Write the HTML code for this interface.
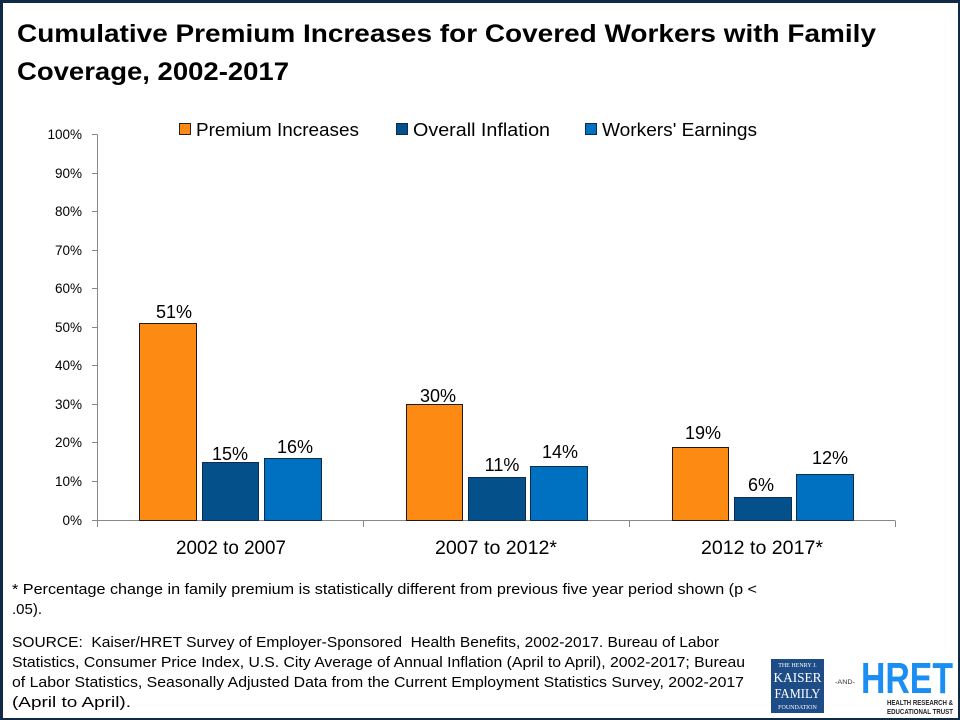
<!DOCTYPE html>
<html><head><meta charset="utf-8"><style>
html,body{margin:0;padding:0;background:#fff;}
svg{display:block;}
text{font-family:"Liberation Sans",sans-serif;white-space:pre;}
</style></head><body>
<svg width="960" height="720" viewBox="0 0 960 720" xmlns="http://www.w3.org/2000/svg">
<rect x="0" y="0" width="960" height="720" fill="#fff"/>
<!-- frame -->
<rect x="0" y="0" width="960" height="3" fill="#0e2a47"/>
<rect x="0" y="0" width="3" height="720" fill="#0e2a47"/>
<rect x="958" y="0" width="2" height="720" fill="#0e2a47"/>
<rect x="0" y="718" width="960" height="2" fill="#0e2a47"/>

<!-- title -->
<text x="17" y="42" font-size="25" font-weight="bold" fill="#000" textLength="859" lengthAdjust="spacingAndGlyphs">Cumulative Premium Increases for Covered Workers with Family</text>
<text x="17" y="80" font-size="25" font-weight="bold" fill="#000" textLength="272" lengthAdjust="spacingAndGlyphs">Coverage, 2002-2017</text>

<!-- legend -->
<rect x="179.5" y="123.5" width="11" height="11" fill="#FD8A12" stroke="#222" stroke-width="1"/>
<text x="196" y="136" font-size="18" fill="#000" textLength="163" lengthAdjust="spacingAndGlyphs">Premium Increases</text>
<rect x="396.5" y="123.5" width="11" height="11" fill="#03508A" stroke="#0d2d50" stroke-width="1"/>
<text x="413" y="136" font-size="18" fill="#000" textLength="137" lengthAdjust="spacingAndGlyphs">Overall Inflation</text>
<rect x="585.5" y="123.5" width="11" height="11" fill="#0071C1" stroke="#0d2d50" stroke-width="1"/>
<text x="602" y="136" font-size="18" fill="#000" textLength="155" lengthAdjust="spacingAndGlyphs">Workers' Earnings</text>

<!-- y axis -->
<g stroke="#888" stroke-width="1">
<line x1="97.5" y1="134.5" x2="97.5" y2="527"/>
<line x1="92" y1="134.5" x2="97.5" y2="134.5"/>
<line x1="92" y1="173.5" x2="97.5" y2="173.5"/>
<line x1="92" y1="211.5" x2="97.5" y2="211.5"/>
<line x1="92" y1="250.5" x2="97.5" y2="250.5"/>
<line x1="92" y1="288.5" x2="97.5" y2="288.5"/>
<line x1="92" y1="327.5" x2="97.5" y2="327.5"/>
<line x1="92" y1="365.5" x2="97.5" y2="365.5"/>
<line x1="92" y1="404.5" x2="97.5" y2="404.5"/>
<line x1="92" y1="442.5" x2="97.5" y2="442.5"/>
<line x1="92" y1="481.5" x2="97.5" y2="481.5"/>
<line x1="92" y1="520.5" x2="895" y2="520.5"/>
<line x1="363.5" y1="520.5" x2="363.5" y2="527"/>
<line x1="629.5" y1="520.5" x2="629.5" y2="527"/>
<line x1="895.5" y1="520.5" x2="895.5" y2="527"/>
</g>
<g font-size="13.5" fill="#000" text-anchor="end">
<text x="82" y="139">100%</text>
<text x="82" y="178">90%</text>
<text x="82" y="216">80%</text>
<text x="82" y="255">70%</text>
<text x="82" y="293">60%</text>
<text x="82" y="332">50%</text>
<text x="82" y="370">40%</text>
<text x="82" y="409">30%</text>
<text x="82" y="447">20%</text>
<text x="82" y="486">10%</text>
<text x="82" y="525">0%</text>
</g>

<!-- bars -->
<g stroke-width="1">
<rect x="139.5" y="323.5" width="57" height="197" fill="#FD8A12" stroke="#1b1b1b"/>
<rect x="202.5" y="462.5" width="56" height="58" fill="#03508A" stroke="#0d2d50"/>
<rect x="264.5" y="458.5" width="57" height="62" fill="#0071C1" stroke="#0d2d50"/>

<rect x="406.5" y="404.5" width="56" height="116" fill="#FD8A12" stroke="#1b1b1b"/>
<rect x="468.5" y="477.5" width="57" height="43" fill="#03508A" stroke="#0d2d50"/>
<rect x="530.5" y="466.5" width="57" height="54" fill="#0071C1" stroke="#0d2d50"/>

<rect x="672.5" y="447.5" width="56" height="73" fill="#FD8A12" stroke="#1b1b1b"/>
<rect x="734.5" y="497.5" width="57" height="23" fill="#03508A" stroke="#0d2d50"/>
<rect x="796.5" y="474.5" width="57" height="46" fill="#0071C1" stroke="#0d2d50"/>
</g>

<!-- data labels -->
<g font-size="18" fill="#000" text-anchor="middle">
<text x="174" y="318">51%</text>
<text x="230" y="460">15%</text>
<text x="295" y="453">16%</text>
<text x="438" y="402">30%</text>
<text x="502" y="471">11%</text>
<text x="560" y="458">14%</text>
<text x="703" y="439">19%</text>
<text x="761" y="491">6%</text>
<text x="830" y="464">12%</text>
</g>

<!-- category labels -->
<g font-size="19" fill="#000">
<text x="176" y="554" textLength="110" lengthAdjust="spacingAndGlyphs">2002 to 2007</text>
<text x="435" y="554" textLength="122" lengthAdjust="spacingAndGlyphs">2007 to 2012*</text>
<text x="701" y="554" textLength="122" lengthAdjust="spacingAndGlyphs">2012 to 2017*</text>
</g>

<!-- footnotes -->
<g font-size="15" fill="#000">
<text x="12" y="594" textLength="745" lengthAdjust="spacingAndGlyphs">* Percentage change in family premium is statistically different from previous five year period shown (p &lt;</text>
<text x="12" y="614">.05).</text>
<text x="12" y="647" textLength="707" lengthAdjust="spacingAndGlyphs">SOURCE:  Kaiser/HRET Survey of Employer-Sponsored  Health Benefits, 2002-2017. Bureau of Labor</text>
<text x="12" y="667" textLength="733" lengthAdjust="spacingAndGlyphs">Statistics, Consumer Price Index, U.S. City Average of Annual Inflation (April to April), 2002-2017; Bureau</text>
<text x="12" y="687" textLength="732" lengthAdjust="spacingAndGlyphs">of Labor Statistics, Seasonally Adjusted Data from the Current Employment Statistics Survey, 2002-2017</text>
<text x="12" y="707" textLength="119" lengthAdjust="spacingAndGlyphs">(April to April).</text>
</g>

<!-- Kaiser logo -->
<rect x="771" y="659" width="53" height="54" fill="#1d4c87"/>
<g fill="#fff" text-anchor="middle">
<text x="797.5" y="667" font-size="6" style="font-family:'Liberation Serif',serif">THE HENRY J.</text>
<text x="797.5" y="682" font-size="14" style="font-family:'Liberation Serif',serif" textLength="48" lengthAdjust="spacingAndGlyphs">KAISER</text>
<text x="797.5" y="698" font-size="14" style="font-family:'Liberation Serif',serif" textLength="46" lengthAdjust="spacingAndGlyphs">FAMILY</text>
<text x="797.5" y="709" font-size="6" style="font-family:'Liberation Serif',serif">FOUNDATION</text>
</g>
<text x="835" y="684" font-size="6" fill="#333" textLength="20" lengthAdjust="spacingAndGlyphs">-AND-</text>
<!-- HRET logo -->
<text x="861" y="693" font-size="44" font-weight="bold" fill="#1a8ef2" textLength="92" lengthAdjust="spacingAndGlyphs">HRET</text>
<text x="887" y="705" font-size="7" font-weight="bold" fill="#222" textLength="66" lengthAdjust="spacingAndGlyphs">HEALTH RESEARCH &amp;</text>
<text x="887" y="714" font-size="7" font-weight="bold" fill="#222" textLength="66" lengthAdjust="spacingAndGlyphs">EDUCATIONAL TRUST</text>
</svg>
</body></html>
